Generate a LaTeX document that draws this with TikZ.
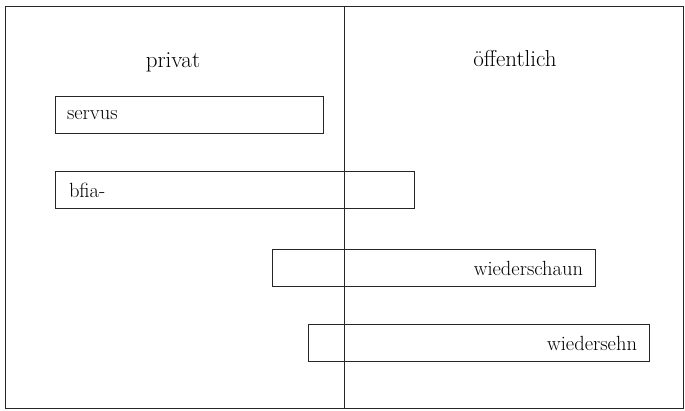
\documentclass[tikz,border=0pt]{standalone}
\begin{document}
\begin{tikzpicture}[x=1pt,y=-1pt,
  frame/.style={draw=black!85,line width=0.9pt},
  head/.style={font=\fontsize{23}{26}\selectfont,anchor=base,inner sep=0pt},
  wordbox/.style={draw=black!85,line width=0.8pt,font=\fontsize{20.5}{24}\selectfont,
    minimum height=37pt,inner ysep=0pt}]
\useasboundingbox (0,0) rectangle (685,410);
\coordinate (tl) at (5,6);
\coordinate (br) at (683,408);
\draw[frame] (tl) rectangle (br);
\coordinate (vt) at (344,6);
\coordinate (vb) at (344,408);
\draw[frame] (vt) -- (vb);
\node[head] (priv) at (173,67) {privat};
\node[head] (oeff) at (515,66) {öffentlich};
\node[wordbox,minimum width=268pt,text width=244pt,inner xsep=12pt,align=left] (servus) at (189,115) {servus};
\node[wordbox,minimum width=359pt,text width=331pt,inner xsep=14pt,align=left] (bfia) at (234.5,190) {bfia-};
\node[wordbox,minimum width=323pt,text width=299pt,inner xsep=12pt,align=right] (wsch) at (433.5,268) {wiederschaun};
\node[wordbox,minimum width=341pt,text width=317pt,inner xsep=12pt,align=right] (wseh) at (478.5,343) {wiedersehn};
\end{tikzpicture}
\end{document}
